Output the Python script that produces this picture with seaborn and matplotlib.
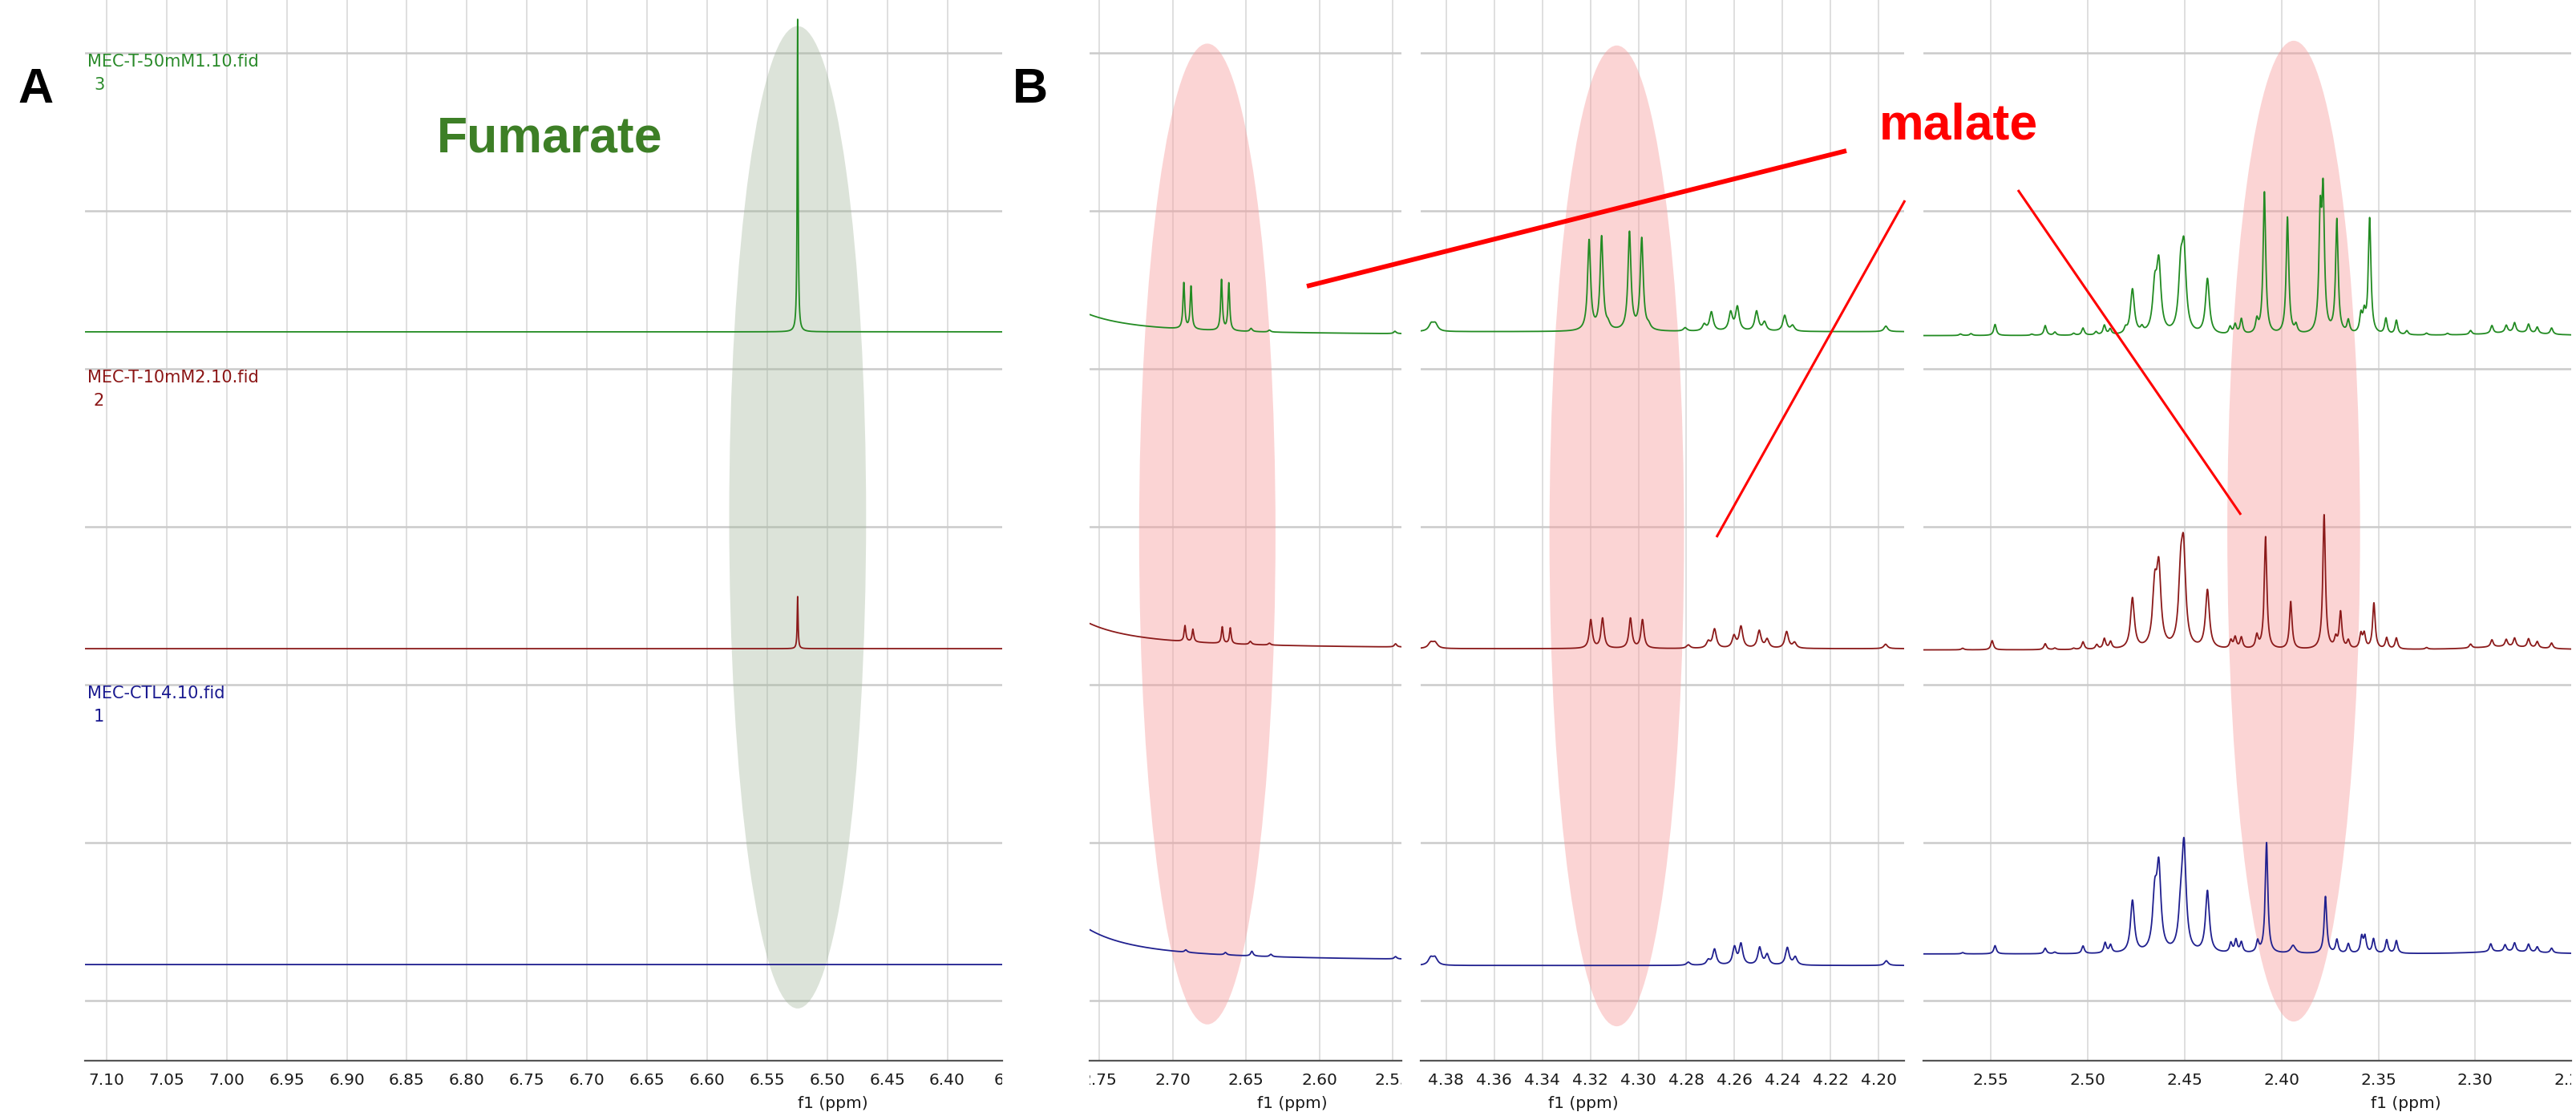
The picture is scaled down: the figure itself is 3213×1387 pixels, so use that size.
import numpy as np
import matplotlib
matplotlib.use("Agg")
import matplotlib.pyplot as plt
import matplotlib.transforms as mtransforms
import seaborn as sns
from matplotlib.patches import Ellipse
from matplotlib.lines import Line2D

# peak lists: (ppm, height in grid units[, half width in ppm])
A_GREEN = [(6.5246, 1.98, 0.00045)]
A_RED = [(6.5246, 0.33, 0.00045)]
A_BLUE = []

# B1: 2.54 - 2.76 ppm (the first entry is the tail of a big peak left of the window)
B1_GREEN = [(2.83, 7.1, 0.01), (2.6924, 0.29), (2.6875, 0.27), (2.6667, 0.32), (2.6617, 0.30),
            (2.6465, 0.02, 0.001), (2.634, 0.012, 0.001), (2.5484, 0.015, 0.001)]
B1_RED = [(2.83, 8.75, 0.01), (2.6916, 0.10), (2.6862, 0.08), (2.6662, 0.105), (2.6607, 0.10),
          (2.647, 0.02, 0.001), (2.634, 0.012, 0.001), (2.548, 0.02, 0.001)]
B1_BLUE = [(2.83, 10.9, 0.01), (2.6910, 0.015, 0.001), (2.6640, 0.015, 0.001),
           (2.646, 0.03, 0.001), (2.633, 0.015, 0.001), (2.548, 0.015, 0.001)]

# B2: 4.19 - 4.39 ppm
B2_GREEN = [(4.3862, 0.045, 0.0012), (4.3845, 0.045, 0.0012),
            (4.3205, 0.57, 0.00075), (4.3153, 0.59, 0.00075), (4.3037, 0.62, 0.00075), (4.2986, 0.58, 0.00075),
            (4.3126, 0.03), (4.2957, 0.025),
            (4.2805, 0.022), (4.2726, 0.04), (4.2696, 0.12), (4.2616, 0.115), (4.2588, 0.15),
            (4.2508, 0.125), (4.2475, 0.055), (4.2391, 0.10), (4.2358, 0.035), (4.197, 0.035)]
B2_RED = [(4.3864, 0.035, 0.0012), (4.3846, 0.035, 0.0012),
          (4.3198, 0.18, 0.00075), (4.3149, 0.19, 0.00075), (4.3033, 0.19, 0.00075), (4.2983, 0.18, 0.00075),
          (4.2792, 0.022), (4.2709, 0.04), (4.2683, 0.12), (4.2602, 0.075), (4.2573, 0.135),
          (4.2497, 0.11), (4.2464, 0.055), (4.2383, 0.105), (4.2350, 0.035), (4.1971, 0.028)]
B2_BLUE = [(4.3864, 0.045, 0.0012), (4.3846, 0.045, 0.0012),
           (4.2792, 0.02), (4.2709, 0.03), (4.2683, 0.10), (4.2600, 0.11), (4.2573, 0.13),
           (4.2495, 0.11), (4.2464, 0.065), (4.2380, 0.11), (4.2347, 0.05), (4.1968, 0.03)]

# B3: 2.25 - 2.58 ppm
B3_GREEN = [(2.5656, 0.010), (2.5602, 0.012), (2.5478, 0.070), (2.5288, 0.008), (2.5219, 0.062),
            (2.5169, 0.020), (2.5072, 0.012), (2.5024, 0.045), (2.4957, 0.020), (2.4914, 0.060),
            (2.4884, 0.035), (2.4805, 0.030), (2.4769, 0.285, 0.0012), (2.4720, 0.030),
            (2.4654, 0.27, 0.0013), (2.4633, 0.42, 0.0013), (2.4520, 0.36, 0.0013), (2.4503, 0.476, 0.0013),
            (2.4382, 0.35, 0.0012), (2.4265, 0.045), (2.4239, 0.06), (2.4207, 0.095), (2.4127, 0.08),
            (2.4088, 0.90), (2.3969, 0.74), (2.3925, 0.05), (2.3800, 0.684), (2.3785, 0.826),
            (2.3714, 0.72), (2.3655, 0.08), (2.3590, 0.11), (2.3573, 0.11), (2.3545, 0.73),
            (2.3461, 0.10), (2.3407, 0.09), (2.3353, 0.025), (2.3251, 0.012), (2.3143, 0.010),
            (2.3024, 0.025), (2.2914, 0.05), (2.2840, 0.045), (2.2797, 0.06), (2.2725, 0.055),
            (2.2680, 0.04), (2.2606, 0.04), (2.2800, 0.02, 0.015)]
B3_RED = [(2.5645, 0.010), (2.5493, 0.058), (2.5219, 0.038), (2.5169, 0.010), (2.5072, 0.008),
          (2.5024, 0.048), (2.4953, 0.028), (2.4914, 0.065), (2.4882, 0.045), (2.4769, 0.32, 0.0012),
          (2.4654, 0.356, 0.0013), (2.4633, 0.473, 0.0013), (2.4520, 0.40, 0.0013), (2.4505, 0.542, 0.0013),
          (2.4382, 0.37, 0.0012), (2.4261, 0.05), (2.4239, 0.07), (2.4207, 0.07), (2.4127, 0.08),
          (2.4082, 0.71), (2.3952, 0.30), (2.3780, 0.85), (2.3720, 0.06), (2.3695, 0.23),
          (2.3655, 0.05), (2.3590, 0.09), (2.3573, 0.09), (2.3523, 0.29), (2.3457, 0.07),
          (2.3407, 0.07), (2.3251, 0.010), (2.3024, 0.025), (2.2914, 0.045), (2.2840, 0.045),
          (2.2797, 0.055), (2.2725, 0.055), (2.2680, 0.04), (2.2606, 0.035), (2.2850, 0.02, 0.02)]
B3_BLUE = [(2.5645, 0.008), (2.5478, 0.052), (2.5219, 0.035), (2.5169, 0.010), (2.5024, 0.048),
           (2.4910, 0.065), (2.4882, 0.05), (2.4769, 0.33, 0.0012), (2.4654, 0.325, 0.0013),
           (2.4633, 0.507, 0.0013), (2.4520, 0.21, 0.0013), (2.4503, 0.645, 0.0013), (2.4382, 0.39, 0.0012),
           (2.4261, 0.06), (2.4235, 0.08), (2.4207, 0.065), (2.4123, 0.07), (2.4077, 0.70),
           (2.3940, 0.05, 0.0015), (2.3773, 0.36), (2.3714, 0.085), (2.3655, 0.06), (2.3586, 0.10),
           (2.3569, 0.10), (2.3525, 0.09), (2.3457, 0.085), (2.3407, 0.08), (2.2920, 0.05),
           (2.2846, 0.042), (2.2797, 0.055), (2.2725, 0.05), (2.2680, 0.035), (2.2606, 0.03),
           (2.2850, 0.015, 0.02)]

# baselines (grid units) for blue / red / green in each panel
A_BASE = [0.228, 2.228, 4.234]
B1_BASE = [0.25, 2.228, 4.214]
B2_BASE = [0.222, 2.228, 4.235]
B3_BASE = [0.295, 2.22, 4.21]

SAMPLES = ["MEC-CTL4.10.fid", "MEC-T-10mM2.10.fid", "MEC-T-50mM1.10.fid"]
SAMPLE_NO = ["1", "2", "3"]

GREEN, RED, BLUE = "#228b22", "#8b1a1a", "#20208f"
TRACE_COLORS = [BLUE, RED, GREEN]

W, H = 3213, 1387
AXIS_Y = 1323          # pixel row of the ppm axis
GRID_PX = 197          # pixel spacing of the horizontal grid
YLIM = (-(AXIS_Y - 1248) / GRID_PX, 1248 / GRID_PX)
TICK_FS = 14.5


def spectrum(ppm, peaks, base, width):
    y = np.full(ppm.shape, base, dtype=float)
    for pk in peaks:
        w = pk[2] if len(pk) > 2 else width
        y += pk[1] * w ** 2 / ((ppm - pk[0]) ** 2 + w ** 2)
    return y


panels = [
    dict(px=(106, 1250), xlim=(7.118, 6.3543), major=np.arange(6.40, 7.101, 0.05),
         minor=np.arange(6.375, 7.11, 0.05), traces=[A_BLUE, A_RED, A_GREEN], base=A_BASE,
         width=0.0006, n=30000, ell=(6.5246, 3.06, 0.114, 6.22, "#9fb397", 0.36), xlab=6.495,
         cut=(6.35, 6)),
    dict(px=(1359, 1748), xlim=(2.7567, 2.544), major=np.arange(2.55, 2.751, 0.05),
         minor=np.arange(2.575, 2.75, 0.05), traces=[B1_BLUE, B1_RED, B1_GREEN], base=B1_BASE,
         width=0.0007, n=12000, ell=(2.6764, 2.954, 0.093, 6.21, "#f79a9a", 0.42), xlab=2.6187,
         cut=None),
    dict(px=(1772, 2375), xlim=(4.3906, 4.1894), major=np.arange(4.20, 4.381, 0.02),
         minor=np.arange(4.19, 4.39, 0.02), traces=[B2_BLUE, B2_RED, B2_GREEN], base=B2_BASE,
         width=0.0009, n=12000, ell=(4.309, 2.942, 0.056, 6.21, "#f79a9a", 0.42), xlab=4.323,
         cut=None),
    dict(px=(2399, 3207), xlim=(2.5848, 2.2505), major=np.arange(2.30, 2.551, 0.05),
         minor=np.arange(2.275, 2.58, 0.05), traces=[B3_BLUE, B3_RED, B3_GREEN], base=B3_BASE,
         width=0.0008, n=16000, ell=(2.3937, 2.972, 0.0685, 6.21, "#f79a9a", 0.42), xlab=2.336,
         cut=(2.25, 0)),
]

sns.set_theme(style="white")
plt.rcParams["font.family"] = ["DejaVu Sans"]

fig = plt.figure(figsize=(W / 100, H / 100), dpi=100)
axes = []
for p in panels:
    x0, x1 = p["px"]
    ax = fig.add_axes([x0 / W, 1 - AXIS_Y / H, (x1 - x0) / W, AXIS_Y / H])
    axes.append(ax)
    ppm = np.linspace(p["xlim"][1], p["xlim"][0], p["n"])
    for peaks, base, col in zip(p["traces"], p["base"], TRACE_COLORS):
        y = spectrum(ppm, peaks, base, p["width"])
        sns.lineplot(x=ppm, y=y, ax=ax, color=col, linewidth=1.3, estimator=None,
                     errorbar=None, sort=False, zorder=3)
    cx, cy, ew, eh, ec, ea = p["ell"]
    ax.add_patch(Ellipse((cx, cy), ew, eh, facecolor=ec, edgecolor="none", alpha=ea, zorder=1))

    ax.set_xlim(*p["xlim"])
    ax.set_ylim(*YLIM)
    ax.set_axisbelow(True)
    ax.set_yticks(range(7))
    ax.set_yticklabels([])
    ax.set_ylabel("")
    ax.set_xticks(p["major"], labels=[f"{v:.2f}" for v in p["major"]])
    ax.set_xticks(p["minor"], minor=True)
    ax.grid(axis="y", color="#cbcbcb", linewidth=1.8)
    ax.grid(axis="x", which="major", color="#d6d6d6", linewidth=1.1)
    ax.tick_params(axis="y", length=0)
    ax.tick_params(axis="x", which="major", direction="out", length=7.2, width=1.1,
                   color="#3a3a3a", labelsize=TICK_FS, labelcolor="#1a1a1a", pad=3.4)
    ax.tick_params(axis="x", which="minor", direction="out", length=3.8, width=1.0, color="#3a3a3a")
    for s in ["top", "left", "right"]:
        ax.spines[s].set_visible(False)
    ax.spines["bottom"].set_color("#555555")
    ax.spines["bottom"].set_linewidth(1.6)

    # tick labels are cut at the panel edges
    clip = mtransforms.TransformedBbox(mtransforms.Bbox([[0, -0.3], [1, 0.05]]), ax.transAxes)
    for lab in ax.get_xticklabels():
        lab.set_clip_box(clip)
        lab.set_clip_on(True)
    if p["cut"] is not None:
        # label of a tick just past the right edge, only its left part shows
        val, shift_px = p["cut"]
        ppm_per_px = (p["xlim"][0] - p["xlim"][1]) / (x1 - x0)
        half = 0.5 * 2.226 * TICK_FS / 72 * 100 * ppm_per_px
        t = ax.text(val + half - shift_px * ppm_per_px, -14.7 / AXIS_Y, f"{val:.2f}",
                    transform=mtransforms.blended_transform_factory(ax.transData, ax.transAxes),
                    ha="left", va="top", fontsize=TICK_FS, color="#1a1a1a")
        t.set_clip_path(None)
        t.set_clip_box(clip)
        t.set_clip_on(True)

    ax.set_xlabel("f1 (ppm)", fontsize=TICK_FS, color="#1a1a1a")
    xf = (p["xlim"][0] - p["xlab"]) / (p["xlim"][0] - p["xlim"][1])
    ax.xaxis.set_label_coords(xf, -54 / AXIS_Y)
    ax.xaxis.label.set_va("center")

# panel A: sample names
axA = axes[0]
tr = mtransforms.blended_transform_factory(axA.transAxes, axA.transData)
label_cols = ["#1a1a90", "#8b1515", "#2a8a2a"]
for k, (name, no, col) in enumerate(zip(SAMPLES, SAMPLE_NO, label_cols)):
    ly = 1.944 + 2 * k
    axA.text(0.0026, ly, name, transform=tr, fontsize=15, color=col, va="center", ha="left")
    axA.text(0.0096, ly - 0.145, no, transform=tr, fontsize=15, color=col, va="center", ha="left")

# annotations
fig.text(45 / W, 1 - 113 / H, "A", fontsize=44, fontweight="bold", family="Liberation Sans",
         ha="center", va="center", color="black")
fig.text(1285 / W, 1 - 113 / H, "B", fontsize=44, fontweight="bold", family="Liberation Sans",
         ha="center", va="center", color="black")
fig.text(686 / W, 1 - 190 / H, "Fumarate", fontsize=45, fontweight="bold", family="Liberation Sans",
         ha="center", va="baseline", color="#3d7f26")
fig.text(2443 / W, 1 - 174 / H, "malate", fontsize=45, fontweight="bold", family="Liberation Sans",
         ha="center", va="baseline", color="#ff0000")

arrows = [((1630, 357), (2303, 188), 4.2), ((2376, 250), (2141, 670), 2.2), ((2517, 237), (2795, 642), 2.2)]
for (xa, ya), (xb, yb), lw in arrows:
    fig.add_artist(Line2D([xa / W, xb / W], [1 - ya / H, 1 - yb / H], transform=fig.transFigure,
                          color="#ff0000", linewidth=lw, solid_capstyle="butt", zorder=10))

fig.savefig("out.png", dpi=100)
